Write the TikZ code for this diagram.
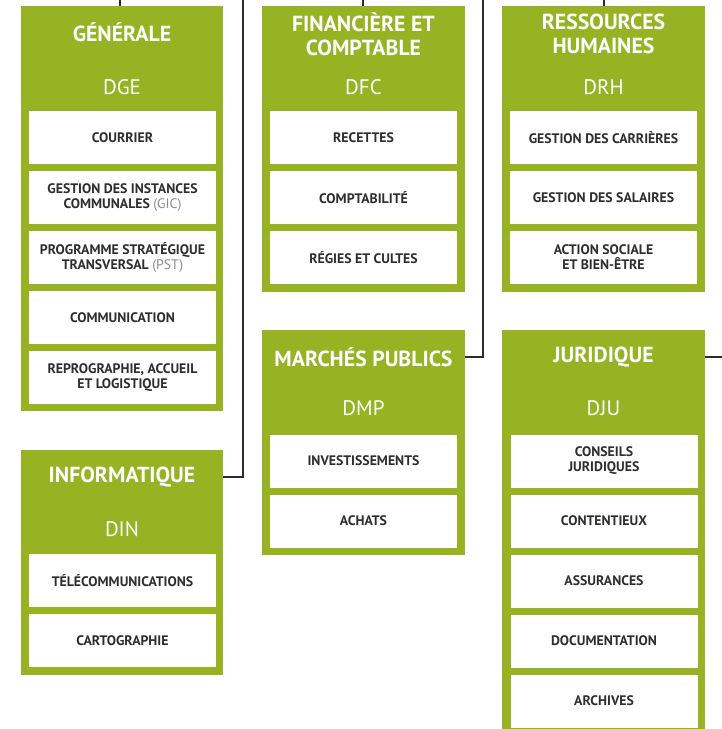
\documentclass[tikz,border=0pt]{standalone}
\usepackage{fontspec}
\setmainfont{PT Sans}
\definecolor{grn}{HTML}{97B324}
\definecolor{txt}{HTML}{2E2E2E}
\definecolor{lnk}{HTML}{2B2B2B}
\definecolor{paren}{HTML}{8C8C8C}
\tikzset{
  dept/.style={fill=grn, draw=none, anchor=north west, inner sep=0pt, minimum width=202pt},
  item/.style={fill=white, draw=none, inner sep=0pt, minimum width=187pt, minimum height=53pt,
    align=center, text=txt, font=\bfseries\fontsize{13.8}{15}\selectfont},
  ttl/.style={text=white, align=center, inner sep=0pt, font=\bfseries\fontsize{21.8}{23.5}\selectfont},
  code/.style={text=white, inner sep=0pt, font=\fontsize{21}{23}\selectfont},
  link/.style={draw=lnk, line width=1.4pt},
}
\newcommand{\pr}[1]{{\mdseries\color{paren}(#1)}}
\begin{document}
\begin{tikzpicture}[x=1pt,y=-1pt]
\useasboundingbox (0,0) rectangle (722,729);
% green department boxes
\node[dept, minimum height=405pt] (dge) at (21,6) {};
\node[dept, minimum height=286pt, minimum width=203pt] (dfc) at (262,6) {};
\node[dept, minimum height=286pt, minimum width=203pt] (drh) at (502,6) {};
\node[dept, minimum height=225pt, minimum width=203pt] (dmp) at (262,330) {};
\node[dept, minimum height=405pt, minimum width=203pt] (dju) at (502,330) {};
\node[dept, minimum height=225pt] (din) at (21,450) {};
% titles and codes
\node[ttl] (dget) at (122,32) {GÉNÉRALE};
\node[code] (dgec) at (122,87) {DGE};
\node[ttl] (dfct) at (363.5,34) {FINANCIÈRE ET\\COMPTABLE};
\node[code] (dfcc) at (363.5,87) {DFC};
\node[ttl] (drht) at (603.5,34) {RESSOURCES\\HUMAINES};
\node[code] (drhc) at (603.5,87) {DRH};
\node[ttl] (dmpt) at (363.5,357) {MARCHÉS PUBLICS};
\node[code] (dmpc) at (363.5,408) {DMP};
\node[ttl] (djut) at (603.5,357) {JURIDIQUE};
\node[code] (djuc) at (603.5,408) {DJU};
\node[ttl] (dint) at (122,477) {INFORMATIQUE};
\node[code] (dinc) at (122,529) {DIN};
% DGE items
\node[item] (g1) at (122.5,137.5) {COURRIER};
\node[item] (g2) at (122.5,197.5) {GESTION DES INSTANCES\\COMMUNALES \pr{GIC}};
\node[item] (g3) at (122.5,257.5) {PROGRAMME STRATÉGIQUE\\TRANSVERSAL \pr{PST}};
\node[item] (g4) at (122.5,317.5) {COMMUNICATION};
\node[item] (g5) at (122.5,377.5) {REPROGRAPHIE, ACCUEIL\\ET LOGISTIQUE};
% DFC items
\node[item] (f1) at (363.5,137.5) {RECETTES};
\node[item] (f2) at (363.5,197.5) {COMPTABILITÉ};
\node[item] (f3) at (363.5,257.5) {RÉGIES ET CULTES};
% DRH items
\node[item] (h1) at (603.5,137.5) {GESTION DES CARRIÈRES};
\node[item] (h2) at (603.5,197.5) {GESTION DES SALAIRES};
\node[item] (h3) at (603.5,257.5) {ACTION SOCIALE\\ET BIEN-ÊTRE};
% DMP items
\node[item] (m1) at (363.5,461) {INVESTISSEMENTS};
\node[item] (m2) at (363.5,521) {ACHATS};
% DJU items
\node[item] (j1) at (604,461) {CONSEILS\\JURIDIQUES};
\node[item] (j2) at (604,521) {CONTENTIEUX};
\node[item] (j3) at (604,581) {ASSURANCES};
\node[item] (j4) at (604,641) {DOCUMENTATION};
\node[item] (j5) at (604,701) {ARCHIVES};
% DIN items
\node[item] (n1) at (122.5,580.5) {TÉLÉCOMMUNICATIONS};
\node[item] (n2) at (122.5,640.5) {CARTOGRAPHIE};
% connectors
\coordinate (t1) at (120,0);
\coordinate (t2) at (363,0);
\coordinate (t3) at (604,0);
\coordinate (b1) at (243,0);
\coordinate (b2) at (483,0);
\coordinate (r1) at (722,357);
\draw[link] (t1) -- (t1 |- dge.north);
\draw[link] (t2) -- (t2 |- dfc.north);
\draw[link] (t3) -- (t3 |- drh.north);
\draw[link] (b1) |- (din.east |- dint);
\draw[link] (b2) |- (dmp.east |- dmpt);
\draw[link] (dju.east |- djut) -- (r1);
\end{tikzpicture}
\end{document}
